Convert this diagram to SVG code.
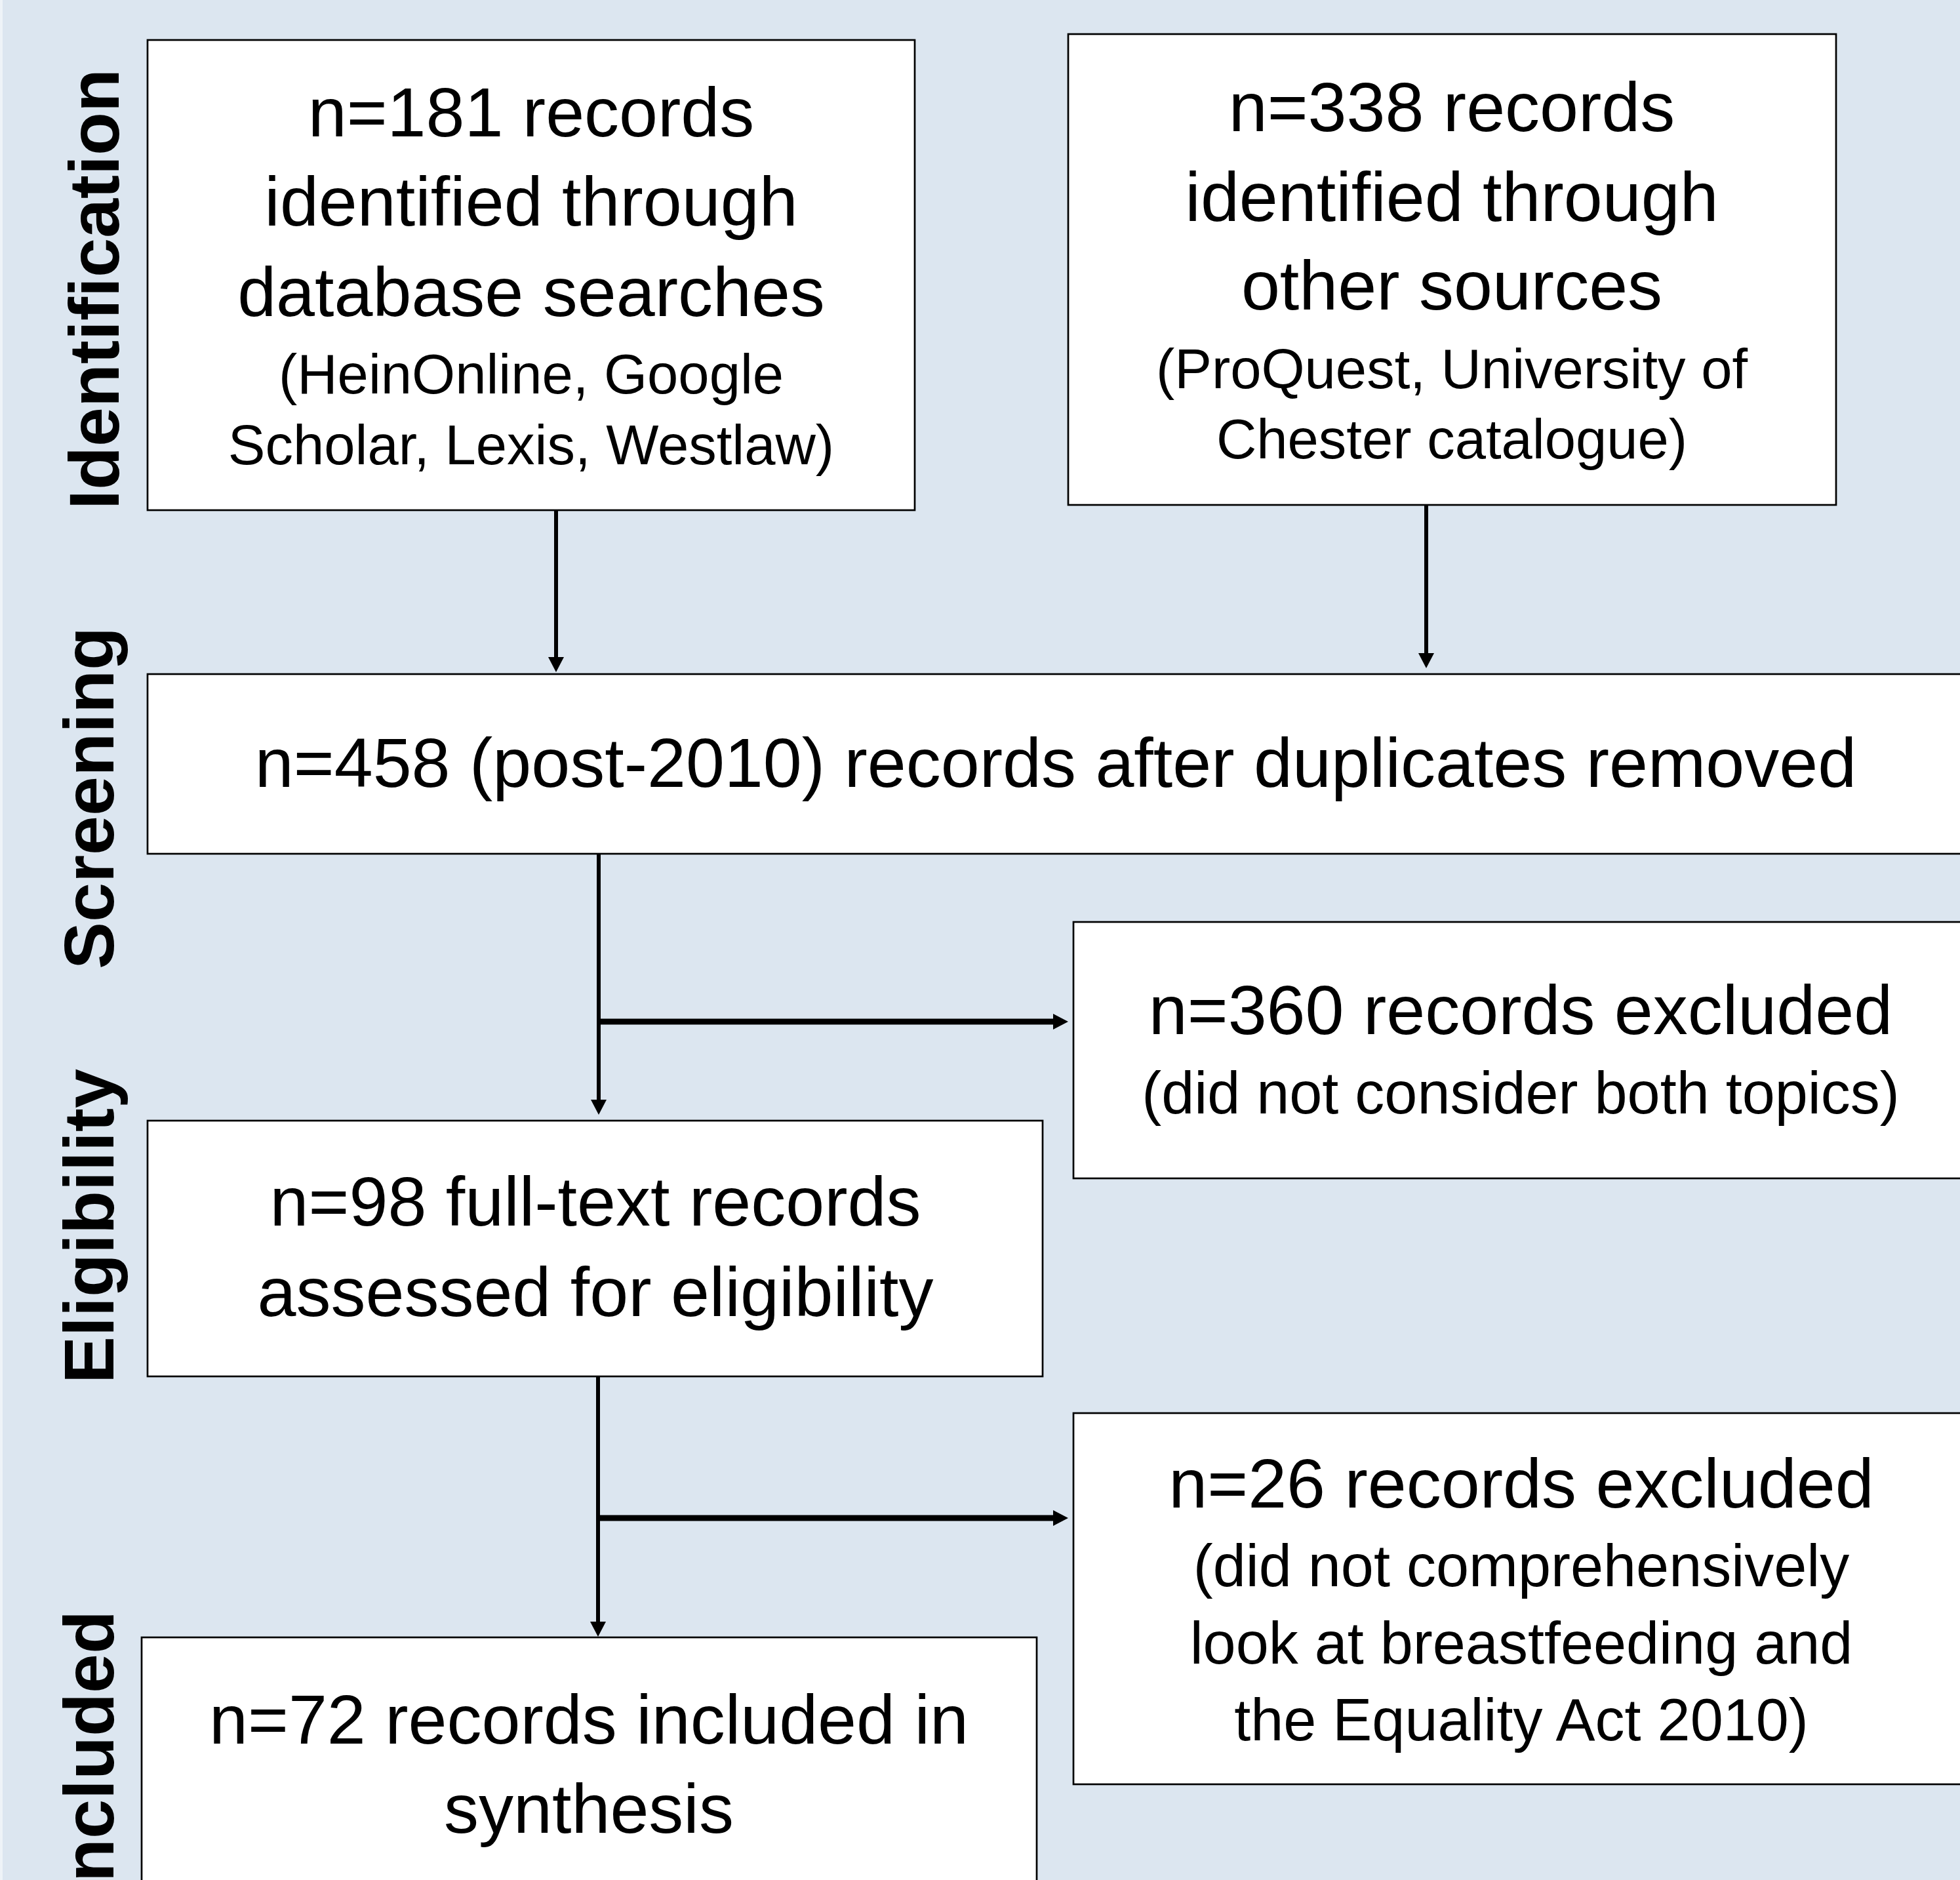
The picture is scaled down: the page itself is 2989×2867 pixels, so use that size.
<svg xmlns="http://www.w3.org/2000/svg" width="2989" height="2867" viewBox="0 0 2989 2867">
<defs>
<style>
.bg{fill:#dce6f0}
.box{fill:#ffffff;stroke:#000000;stroke-width:2.7}
.t{font-family:"Liberation Sans",Arial,sans-serif;fill:#000000;text-anchor:middle}
.m{font-size:106px}
.s{font-size:85px}
.s2{font-size:90px}
.lab{font-family:"Liberation Sans",Arial,sans-serif;font-weight:bold;font-size:108px;fill:#000000}
.v{stroke:#000000;stroke-width:6;fill:none}
.h{stroke:#000000;stroke-width:9;fill:none}
</style>
<marker id="ah" markerUnits="userSpaceOnUse" viewBox="0 -12 24 24" refX="1" refY="0" markerWidth="24" markerHeight="24" orient="auto" overflow="visible">
<path d="M0,-12 L23,0 L0,12 Z" fill="#000000"/>
</marker>
</defs>
<rect class="bg" x="0" y="0" width="2989" height="2867"/>
<rect x="0" y="0" width="4" height="2867" fill="#eef3f8"/>

<g id="labels">
<text class="lab" text-anchor="middle" transform="translate(181,441) rotate(-90)">Identification</text>
<text class="lab" text-anchor="middle" transform="translate(173,1217) rotate(-90)">Screening</text>
<text class="lab" text-anchor="middle" transform="translate(173,1870) rotate(-90)">Eligibility</text>
<text class="lab" text-anchor="end" transform="translate(173,2456) rotate(-90)">Included</text>
</g>

<g id="connectors">
<line class="v" x1="848" y1="779" x2="848" y2="1003" marker-end="url(#ah)"/>
<line class="v" x1="2175" y1="771" x2="2175" y2="997" marker-end="url(#ah)"/>
<line class="v" x1="913" y1="1302" x2="913" y2="1678" marker-end="url(#ah)"/>
<line class="h" x1="910" y1="1558" x2="1607" y2="1558" marker-end="url(#ah)"/>
<line class="v" x1="912" y1="2100" x2="912" y2="2474" marker-end="url(#ah)"/>
<line class="h" x1="909" y1="2315" x2="1607" y2="2315" marker-end="url(#ah)"/>
</g>

<g id="node-db">
<rect class="box" x="225" y="61" width="1170" height="717"/>
<text class="t m" x="810" y="208">n=181 records</text>
<text class="t m" x="810" y="344">identified through</text>
<text class="t m" x="810" y="482">database searches</text>
<text class="t s" x="810" y="600">(HeinOnline, Google</text>
<text class="t s" x="810" y="708">Scholar, Lexis, Westlaw)</text>
</g>

<g id="node-other">
<rect class="box" x="1629" y="52" width="1171" height="718"/>
<text class="t m" x="2214" y="200">n=338 records</text>
<text class="t m" x="2214" y="337">identified through</text>
<text class="t m" x="2214" y="472">other sources</text>
<text class="t s" x="2214" y="592">(ProQuest, University of</text>
<text class="t s" x="2214" y="699">Chester catalogue)</text>
</g>

<g id="node-screening">
<rect class="box" x="225" y="1028" width="2780" height="274"/>
<text class="t m" x="1610" y="1200">n=458 (post-2010) records after duplicates removed</text>
</g>

<g id="node-excluded360">
<rect class="box" x="1637" y="1406" width="1368" height="391"/>
<text class="t m" x="2319" y="1577">n=360 records excluded</text>
<text class="t s2" x="2319" y="1698">(did not consider both topics)</text>
</g>

<g id="node-eligibility">
<rect class="box" x="225" y="1709" width="1365" height="390"/>
<text class="t m" x="908" y="1869">n=98 full-text records</text>
<text class="t m" x="908" y="2007">assessed for eligibility</text>
</g>

<g id="node-excluded26">
<rect class="box" x="1637" y="2155" width="1368" height="566"/>
<text class="t m" x="2320" y="2299">n=26 records excluded</text>
<text class="t s2" x="2320" y="2419">(did not comprehensively</text>
<text class="t s2" x="2320" y="2537">look at breastfeeding and</text>
<text class="t s2" x="2320" y="2654">the Equality Act 2010)</text>
</g>

<g id="node-included">
<rect class="box" x="216" y="2497" width="1365" height="420"/>
<text class="t m" x="898" y="2659">n=72 records included in</text>
<text class="t m" x="898" y="2795">synthesis</text>
</g>
</svg>
